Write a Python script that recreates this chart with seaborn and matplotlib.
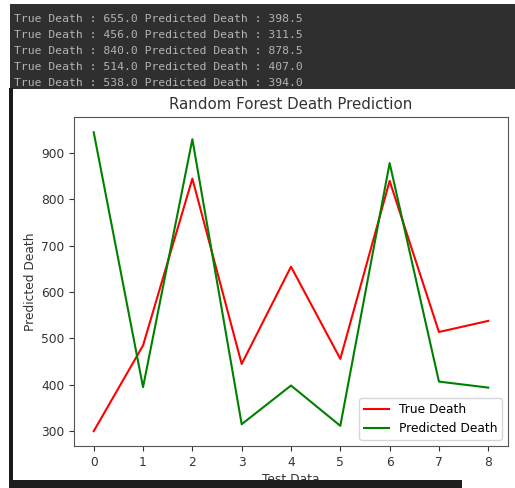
import matplotlib
matplotlib.use("Agg")
import matplotlib.pyplot as plt
import seaborn as sns
import pandas as pd
from matplotlib.patches import Rectangle

test_index = [0, 1, 2, 3, 4, 5, 6, 7, 8]
true_death = [300, 485, 845, 445, 655, 456, 840, 514, 538]
pred_death = [945, 395, 930, 315, 398.5, 311.5, 878.5, 407, 394]
console_lines = [
    "True Death : 655.0 Predicted Death : 398.5",
    "True Death : 456.0 Predicted Death : 311.5",
    "True Death : 840.0 Predicted Death : 878.5",
    "True Death : 514.0 Predicted Death : 407.0",
    "True Death : 538.0 Predicted Death : 394.0",
]

W, H = 515, 488
fig = plt.figure(figsize=(W / 100, H / 100), dpi=100)

def fx(x):
    return x / W

def fy(y):
    return 1 - y / H

# console header
fig.patches.append(Rectangle((fx(10), fy(89)), fx(505), 85 / H, transform=fig.transFigure,
                             facecolor="#2f2f2f", edgecolor="none", zorder=0))
# left border
fig.patches.append(Rectangle((fx(9), fy(488)), fx(4), 400 / H, transform=fig.transFigure,
                             facecolor="#1a1a1a", edgecolor="none", zorder=0))
for i, line in enumerate(console_lines):
    fig.text(fx(14), fy(19 + i * 16), line, family="DejaVu Sans Mono", fontsize=8.2,
             color="#b4b4b4", va="center", ha="left")

ax = fig.add_axes([fx(74), fy(446), fx(508) - fx(74), (446 - 117) / H])

df = pd.DataFrame({"idx": test_index, "true": true_death, "pred": pred_death})
sns.lineplot(data=df, x="idx", y="true", color="red", label="True Death", ax=ax, lw=1.5)
sns.lineplot(data=df, x="idx", y="pred", color="green", label="Predicted Death", ax=ax, lw=1.5)

ax.set_xticks(test_index)
ax.set_xlim(-0.4, 8.4)
ax.set_ylim(268, 978)
ax.set_yticks([300, 400, 500, 600, 700, 800, 900])
ax.tick_params(labelsize=8.8, colors="#333333")
ax.set_title("Random Forest Death Prediction", fontsize=10.8, color="#333333", pad=6)
ax.set_xlabel("Test Data", fontsize=8.8, color="#333333", labelpad=3)
ax.set_ylabel("Predicted Death", fontsize=8.8, color="#333333", labelpad=3)
for s in ax.spines.values():
    s.set_color("#555555")
ax.legend(loc="lower right", fontsize=8.8)

# bottom dark bar
fig.patches.append(Rectangle((fx(9), 0), fx(453), 8 / H, transform=fig.transFigure,
                             facecolor="#1e1e1e", edgecolor="none", zorder=5))

fig.savefig("out.png", dpi=100)
